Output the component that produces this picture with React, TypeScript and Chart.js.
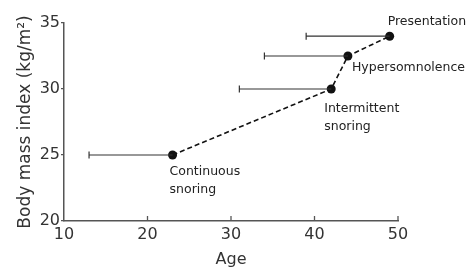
import React, { useEffect, useRef } from "react";
import { Chart, registerables } from "chart.js";

Chart.register(...registerables);

const stages = ["Continuous\nsnoring", "Intermittent\nsnoring", "Hypersomnolence", "Presentation"];
const ageMean = [23, 42, 44, 49];
const ageLow = [13, 31, 34, 39];
const bmi = [25, 30, 32.5, 34];
const xTicks = [10, 20, 30, 40, 50];
const yTicks = [20, 25, 30, 35];

// label offsets (styling only) relative to each point: [dx, dy]
const labelOffsets: [number, number][] = [
  [-3, 17],
  [-7, 20],
  [4, 12],
  [-2, -14],
];

const FONT = "'DejaVu Sans', sans-serif";

const overlay = {
  id: "overlay",
  afterDatasetsDraw(chart: any) {
    const { ctx, scales } = chart;
    const xs = scales.x;
    const ys = scales.y;
    ctx.save();
    // error bars
    ctx.strokeStyle = "#333";
    ctx.lineWidth = 1.2;
    for (let i = 0; i < bmi.length; i++) {
      const y = ys.getPixelForValue(bmi[i]);
      const x0 = xs.getPixelForValue(ageLow[i]);
      const x1 = xs.getPixelForValue(ageMean[i]);
      ctx.beginPath();
      ctx.moveTo(x0, y);
      ctx.lineTo(x1, y);
      ctx.moveTo(x0, y - 3.5);
      ctx.lineTo(x0, y + 3.5);
      ctx.stroke();
    }
    // x inward ticks
    ctx.strokeStyle = "#555";
    ctx.lineWidth = 1.3;
    const bottom = chart.chartArea.bottom;
    for (const t of xTicks.slice(1)) {
      const x = xs.getPixelForValue(t);
      ctx.beginPath();
      ctx.moveTo(x, bottom);
      ctx.lineTo(x, bottom - 5);
      ctx.stroke();
    }
    // labels
    ctx.fillStyle = "#222";
    ctx.font = `12.5px ${FONT}`;
    ctx.textAlign = "left";
    ctx.textBaseline = "middle";
    for (let i = 0; i < stages.length; i++) {
      const px = xs.getPixelForValue(ageMean[i]) + labelOffsets[i][0];
      const py = ys.getPixelForValue(bmi[i]) + labelOffsets[i][1];
      const lines = stages[i].split("\n");
      lines.forEach((ln, k) => ctx.fillText(ln, px, py + k * 18));
    }
    ctx.restore();
  },
};

export default function App() {
  const ref = useRef<HTMLCanvasElement>(null);
  useEffect(() => {
    if (!ref.current) return;
    const chart = new Chart(ref.current, {
      type: "scatter",
      data: {
        datasets: [
          {
            data: ageMean.map((a, i) => ({ x: a, y: bmi[i] })),
            showLine: true,
            borderColor: "#111",
            borderWidth: 1.6,
            borderDash: [5, 3],
            backgroundColor: "#111",
            pointRadius: 4.5,
            pointBackgroundColor: "#111",
            pointBorderWidth: 0,
          } as any,
        ],
      },
      options: {
        responsive: false,
        animation: false,
        layout: { padding: { top: 23, right: 74, left: 0, bottom: 0 } },
        plugins: { legend: { display: false }, tooltip: { enabled: false } },
        scales: {
          x: {
            type: "linear",
            min: 10,
            max: 50,
            afterBuildTicks: (s: any) => {
              s.ticks = xTicks.map((v) => ({ value: v }));
            },
            afterFit: (s: any) => {
              s.height = 48;
            },
            grid: { display: false, drawTicks: false },
            border: { display: true, color: "#555", width: 1.5 },
            ticks: {
              color: "#333",
              font: { family: FONT, size: 16 },
              padding: 4,
            },
            title: {
              display: true,
              text: "Age",
              color: "#333",
              font: { family: FONT, size: 16 },
              padding: { top: 4, bottom: 0 },
            },
          },
          y: {
            type: "linear",
            min: 20,
            max: 35,
            afterBuildTicks: (s: any) => {
              s.ticks = yTicks.map((v) => ({ value: v }));
            },
            afterFit: (s: any) => {
              s.width = 64;
            },
            grid: {
              display: true,
              drawOnChartArea: false,
              drawTicks: true,
              tickLength: 3,
              color: "#555",
              lineWidth: 1.3,
            },
            border: { display: true, color: "#555", width: 1.5 },
            ticks: {
              color: "#333",
              font: { family: FONT, size: 16 },
              padding: 1,
            },
            title: {
              display: true,
              text: "Body mass index (kg/m²)",
              color: "#333",
              font: { family: FONT, size: 17 },
              padding: { top: 15, bottom: 0 },
            },
          },
        },
      },
      plugins: [overlay],
    });
    return () => chart.destroy();
  }, []);
  return (
    <div style={{ position: "fixed", left: 0, top: 0, width: 472, height: 269, background: "#fff" }}>
      <canvas ref={ref} width={472} height={269} style={{ width: 472, height: 269 }} />
    </div>
  );
}
